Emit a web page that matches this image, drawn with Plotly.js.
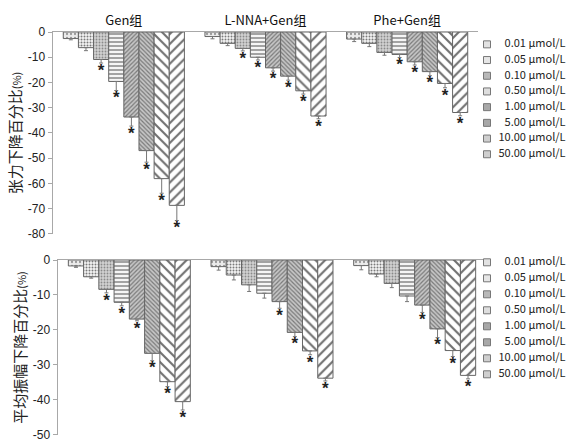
<!DOCTYPE html>
<html><head><meta charset="utf-8">
<script src="https://cdn.plot.ly/plotly-3.0.1.min.js"></script>
<style>html,body{margin:0;padding:0;background:#fff}#chart{width:570px;height:442px}</style>
</head><body><div id="chart"></div>
<script>
const groups = ['Gen组', 'L-NNA+Gen组', 'Phe+Gen组'];
const concentrations = ['0.01', '0.05', '0.10', '0.50', '1.00', '5.00', '10.00', '50.00'];
const legendLabels = ['\u2007\u20070.01\u00a0μmol/L', '\u2007\u20070.05\u00a0μmol/L', '\u2007\u20070.10\u00a0μmol/L', '\u2007\u20070.50\u00a0μmol/L',
                      '\u2007\u20071.00\u00a0μmol/L', '\u2007\u20075.00\u00a0μmol/L', '\u200710.00\u00a0μmol/L', '\u200750.00\u00a0μmol/L'];

// 张力下降百分比 (%) — mean and SEM per concentration
const tensionGen      = [-2.6, -6.2, -10.9, -19.6, -33.7, -47.0, -58.1, -68.7];
const tensionGenErr   = [0.5, 1.2, 1.4, 3.6, 3.6, 4.6, 5.8, 6.0];
const tensionLNNA     = [-1.8, -4.5, -6.5, -10.0, -14.2, -17.5, -23.3, -33.3];
const tensionLNNAErr  = [0.9, 0.9, 1.0, 1.1, 1.3, 1.6, 1.3, 1.1];
const tensionPhe      = [-2.8, -4.5, -8.1, -8.9, -11.8, -15.7, -20.4, -31.9];
const tensionPheErr   = [1.0, 1.3, 1.1, 1.2, 1.3, 1.6, 1.7, 1.3];
const tensionSigGen   = [0, 0, 1, 1, 1, 1, 1, 1];
const tensionSigLNNA  = [0, 0, 1, 1, 1, 1, 1, 1];
const tensionSigPhe   = [0, 0, 0, 1, 1, 1, 1, 1];

// 平均振幅下降百分比 (%)
const amplitudeGen      = [-1.7, -4.8, -8.4, -12.1, -16.9, -26.7, -34.8, -40.5];
const amplitudeGenErr   = [0.4, 0.4, 1.0, 1.0, 0.5, 2.1, 1.4, 2.4];
const amplitudeLNNA     = [-1.9, -4.3, -7.1, -9.5, -11.9, -20.7, -26.0, -33.8];
const amplitudeLNNAErr  = [1.0, 1.4, 1.9, 1.4, 1.9, 1.2, 1.1, 0.8];
const amplitudePhe      = [-1.6, -4.0, -6.7, -10.3, -12.9, -19.7, -25.9, -33.0];
const amplitudePheErr   = [1.2, 0.8, 1.2, 1.6, 2.1, 2.5, 1.7, 1.0];
const amplitudeSigGen   = [0, 0, 1, 1, 1, 1, 1, 1];
const amplitudeSigLNNA  = [0, 0, 0, 0, 1, 1, 1, 1];
const amplitudeSigPhe   = [0, 0, 0, 0, 1, 1, 1, 1];

const yTicksTension   = [0, -10, -20, -30, -40, -50, -60, -70, -80];
const yTicksAmplitude = [0, -10, -20, -30, -40, -50];

const patterns = [
  {shape: '.', bgcolor: '#ececec', fgcolor: '#9a9a9a', size: 4, solidity: 0.25},
  {shape: '.', bgcolor: '#f5f5f5', fgcolor: '#7a7a7a', size: 3, solidity: 0.35},
  {shape: '.', bgcolor: '#d2d2d2', fgcolor: '#8a8a8a', size: 3, solidity: 0.3},
  {shape: '-', bgcolor: '#f5f5f5', fgcolor: '#9a9a9a', size: 4, solidity: 0.45},
  {shape: '/', bgcolor: '#c6c6c6', fgcolor: '#7a7a7a', size: 3, solidity: 0.4},
  {shape: '\\', bgcolor: '#c6c6c6', fgcolor: '#7a7a7a', size: 3, solidity: 0.4},
  {shape: '\\', bgcolor: '#ffffff', fgcolor: '#707070', size: 7, solidity: 0.3},
  {shape: '/', bgcolor: '#ffffff', fgcolor: '#707070', size: 7, solidity: 0.3}
];
const legendColors = ['#e2e2e2', '#e6e6e6', '#b8b8b8', '#dedede', '#a8a8a8', '#a8a8a8', '#cfcfcf', '#cfcfcf'];

const W = 0.855 / 8;

function panelTraces(vals, errs, sigs, xa, ya) {
  const traces = [];
  const sx = [], sy = [], st = [];
  concentrations.forEach((c, i) => {
    const xs = groups.map((g, gi) => gi + (i - 3.5) * W);
    const ys = vals.map(v => v[i]);
    const es = errs.map(e => e[i]);
    traces.push({
      type: 'bar', x: xs, y: ys, width: W, xaxis: xa, yaxis: ya, name: c + ' μmol/L',
      showlegend: false, hoverinfo: 'skip',
      marker: {color: patterns[i].bgcolor, line: {color: '#666', width: 1}, pattern: patterns[i]},
      error_y: {type: 'data', symmetric: false, array: ys.map(() => 0), arrayminus: es,
                color: '#777', thickness: 1, width: 2}
    });
    groups.forEach((g, gi) => {
      if (sigs[gi][i]) { sx.push(xs[gi]); sy.push(ys[gi] - es[gi]); st.push('*'); }
    });
  });
  traces.push({type: 'scatter', mode: 'text', x: sx, y: sy, text: st, textposition: 'bottom center',
    textfont: {family: 'Liberation Sans', size: 17, weight: 'bold', color: '#222'}, xaxis: xa, yaxis: ya,
    showlegend: false, cliponaxis: false, hoverinfo: 'skip'});
  return traces;
}

function legendTrace(xa, ya) {
  return {type: 'scatter', mode: 'markers+text', x: concentrations.map(() => 0), y: concentrations,
    text: legendLabels, textposition: 'middle right', xaxis: xa, yaxis: ya, cliponaxis: false,
    textfont: {family: 'Noto Sans CJK SC', size: 11, color: '#222'},
    marker: {symbol: 'square', size: 7, color: legendColors, line: {color: '#777', width: 1}},
    showlegend: false, hoverinfo: 'skip'};
}

const data = [].concat(
  panelTraces([tensionGen, tensionLNNA, tensionPhe], [tensionGenErr, tensionLNNAErr, tensionPheErr],
              [tensionSigGen, tensionSigLNNA, tensionSigPhe], 'x', 'y'),
  panelTraces([amplitudeGen, amplitudeLNNA, amplitudePhe], [amplitudeGenErr, amplitudeLNNAErr, amplitudePheErr],
              [amplitudeSigGen, amplitudeSigLNNA, amplitudeSigPhe], 'x2', 'y2'),
  [legendTrace('x3', 'y3'), legendTrace('x4', 'y4')]
);

const axisLine = '#a8a8a8';
const tickFont = {family: 'Liberation Sans', size: 12, color: '#222'};
const titleFont = {family: 'Noto Sans CJK SC', size: 15, color: '#222'};

const layout = {
  width: 570, height: 442, margin: {l: 0, r: 0, t: 0, b: 0},
  paper_bgcolor: '#fff', plot_bgcolor: 'rgba(0,0,0,0)',
  barmode: 'overlay', showlegend: false,
  xaxis: {domain: [53/570, 478/570], range: [-0.5, 2.5], side: 'top', anchor: 'y',
          showline: true, linecolor: axisLine, linewidth: 1.5, ticks: '', showgrid: false, zeroline: false,
          tickvals: [0, 1, 2], ticktext: groups,
          tickfont: {family: 'Noto Sans CJK SC', size: 13, color: '#111'}},
  yaxis: {domain: [1 - 234/442, 1 - 32/442], range: [-80.05, 0], anchor: 'x',
          showline: true, linecolor: axisLine, linewidth: 1.5, ticks: 'outside', ticklen: 4, tickcolor: axisLine,
          showgrid: false, zeroline: false, tickvals: yTicksTension, ticktext: yTicksTension.map(String),
          tickfont: tickFont, ticklabeloverflow: 'allow',
          title: {text: '张力下降百分比<span style="font-size:11px">(%)</span>', font: titleFont, standoff: 2}},
  xaxis2: {domain: [58/570, 486/570], range: [-0.5, 2.5], side: 'top', anchor: 'y2',
           showline: true, linecolor: axisLine, linewidth: 1.5, ticks: '', showgrid: false, zeroline: false,
           showticklabels: false},
  yaxis2: {domain: [1 - 435/442, 1 - 260/442], range: [-50.05, 0], anchor: 'x2',
           showline: true, linecolor: axisLine, linewidth: 1.5, ticks: 'outside', ticklen: 4, tickcolor: axisLine,
           showgrid: false, zeroline: false, tickvals: yTicksAmplitude, ticktext: yTicksAmplitude.map(String),
           tickfont: tickFont, ticklabeloverflow: 'allow',
           title: {text: '平均振幅下降百分比<span style="font-size:11px">(%)</span>', font: titleFont, standoff: 2}},
  xaxis3: {domain: [487/570, 1], range: [0, 1], visible: false, anchor: 'y3'},
  yaxis3: {domain: [1 - 162.1/442, 1 - 36.5/442], type: 'category', range: [7.5, -0.5], visible: false, anchor: 'x3'},
  xaxis4: {domain: [487/570, 1], range: [0, 1], visible: false, anchor: 'y4'},
  yaxis4: {domain: [1 - 382.3/442, 1 - 254.3/442], type: 'category', range: [7.5, -0.5], visible: false, anchor: 'x4'}
};

Plotly.newPlot('chart', data, layout, {staticPlot: true, displayModeBar: false});
</script>
</body></html>
